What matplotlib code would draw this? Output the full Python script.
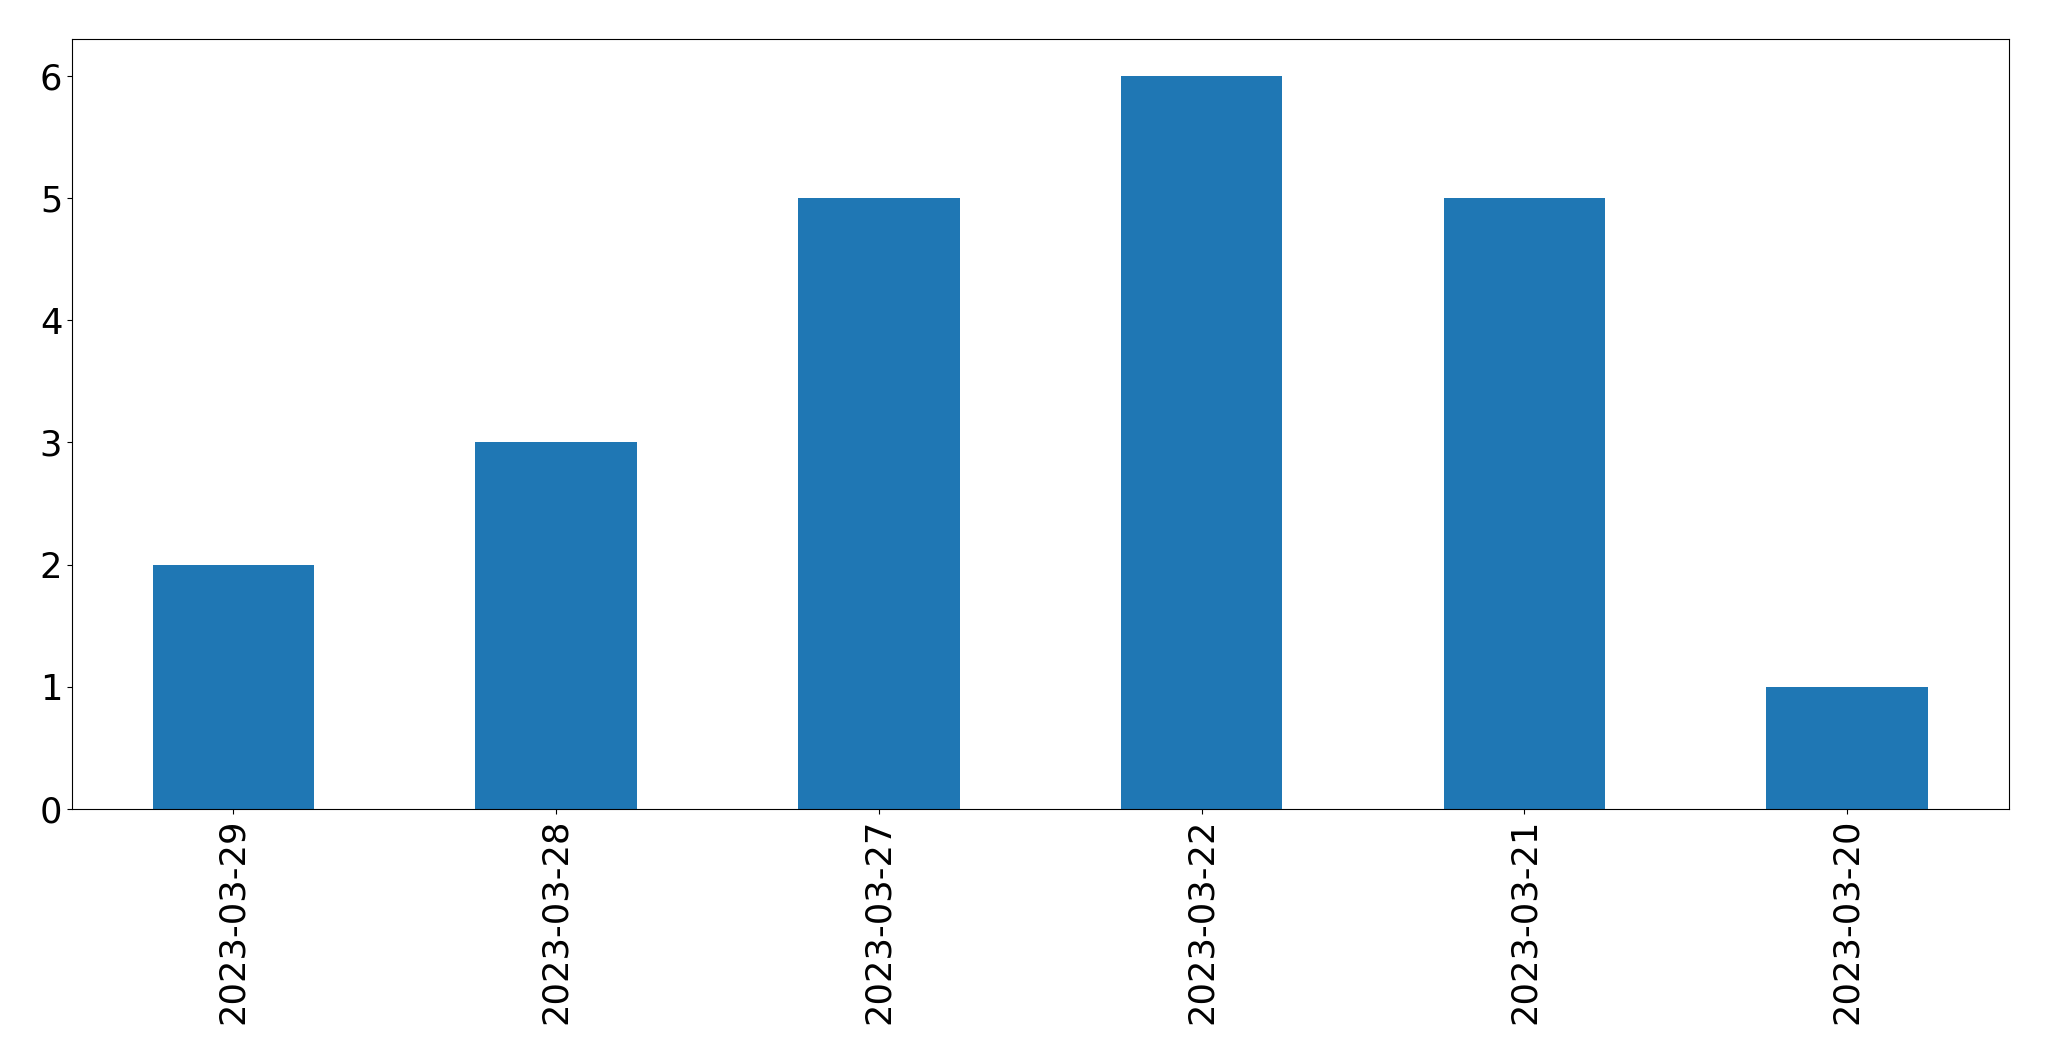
import pandas as pd
import matplotlib
matplotlib.use("Agg")
import matplotlib.pyplot as plt

# dates (x categories) and counts
dates = ["2023-03-29", "2023-03-28", "2023-03-27", "2023-03-22", "2023-03-21", "2023-03-20"]
counts = [2, 3, 5, 6, 5, 1]

series = pd.Series(counts, index=dates)

fig = plt.figure(figsize=(20.49, 10.61), dpi=100)
ax = fig.add_subplot(111)
fig.subplots_adjust(left=72 / 2049, right=2008.5 / 2049, top=1 - 39 / 1061, bottom=1 - 809 / 1061)

series.plot.bar(ax=ax, color="#1f77b4")
ax.tick_params(axis="both", labelsize=25.4)
ax.set_yticks(range(0, 7))

fig.savefig("out.png", dpi=100)
